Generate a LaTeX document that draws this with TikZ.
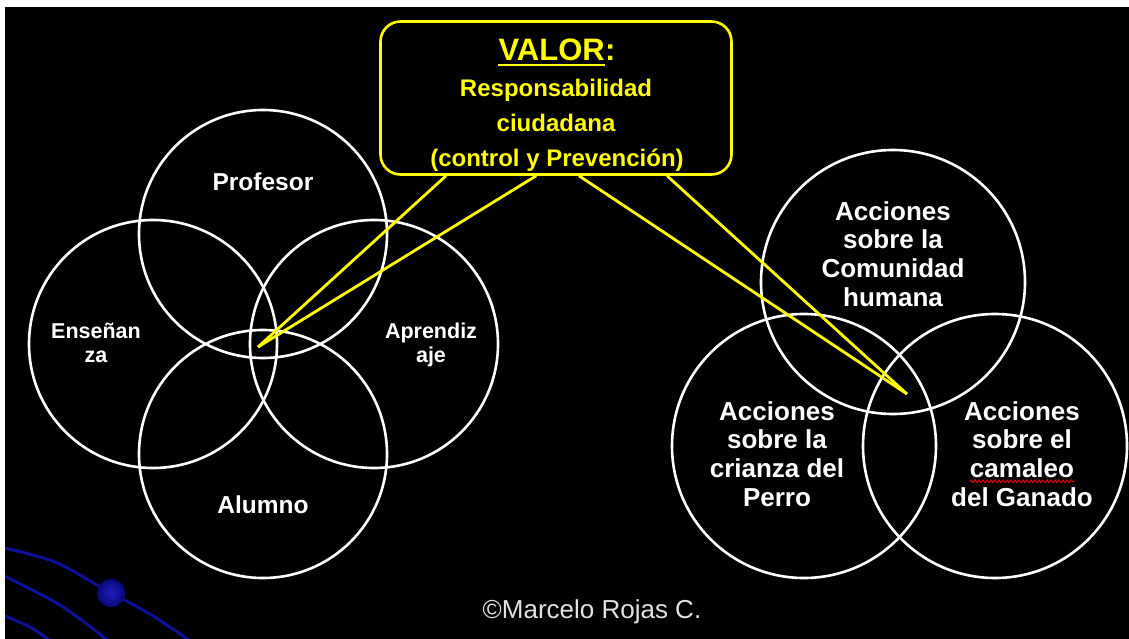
\documentclass[tikz,border=0pt]{standalone}
\usepackage{fontspec}
\setmainfont{Liberation Sans}
\usetikzlibrary{calc,decorations.pathmorphing}
\definecolor{vyellow}{RGB}{255,255,0}
\definecolor{decoblue}{RGB}{14,14,150}
\definecolor{ballin}{RGB}{30,30,190}
\definecolor{ballout}{RGB}{8,8,120}
\definecolor{copygray}{RGB}{225,225,225}
\begin{document}
\begin{tikzpicture}[x=1pt,y=-1pt,
  ring/.style={circle,draw=white,line width=2.6pt,minimum size=#1,inner sep=0pt},
  ltxt/.style={text=white,font=\fontsize{#1}{#1}\selectfont\bfseries,inner sep=0pt,anchor=base},
  ytxt/.style={text=vyellow,font=\fontsize{#1}{#1}\selectfont\bfseries,inner sep=0pt,anchor=base},
  ray/.style={draw=vyellow,line width=2.8pt},
  swirl/.style={draw=decoblue,line width=3pt}]
\useasboundingbox (0,0) rectangle (1129,639);
\fill[white] (0,0) rectangle (1129,639);
\fill[black] (5,7) rectangle (1129,639);

% decoration bottom-left
\begin{scope}
\clip (5,7) rectangle (1129,639);
\draw[swirl] plot[smooth] coordinates {(0,547) (55,562) (111,593) (150,614) (192,642)};
\draw[swirl] plot[smooth] coordinates {(0,574) (60,605) (110,642)};
\draw[swirl] plot[smooth] coordinates {(0,614) (30,627) (52,642)};
\node[circle,minimum size=28pt,inner sep=0pt,inner color=ballin,outer color=ballout] (ball) at (111,593) {};
\end{scope}

% left circles
\node[ring=248pt] (prof) at (263,234) {};
\node[ring=248pt] (ense) at (153,344) {};
\node[ring=248pt] (apre) at (374,344) {};
\node[ring=248pt] (alum) at (263,454) {};

% right circles
\node[ring=264pt] (comu) at (893,282) {};
\node[ring=264pt] (perro) at (804,446) {};
\node[ring=264pt] (ganado) at (995,446) {};

% left texts
\node[ltxt=24.5] (tprof) at (263,191) {Profesor};
\node[ltxt=24.5] (talum) at (263,513) {Alumno};
\node[ltxt=21.5] (tense1) at (96,338) {Enseñan};
\node[ltxt=21.5] (tense2) at (96,362) {za};
\node[ltxt=21.5] (tapre1) at (431,338) {Aprendiz};
\node[ltxt=21.5] (tapre2) at (431,362) {aje};

% right texts
\node[ltxt=26] (tc1) at (893,220) {Acciones};
\node[ltxt=26] (tc2) at (893,248.7) {sobre la};
\node[ltxt=26] (tc3) at (893,277.3) {Comunidad};
\node[ltxt=26] (tc4) at (893,306) {humana};

\node[ltxt=26] (tp1) at (777,420) {Acciones};
\node[ltxt=26] (tp2) at (777,448.7) {sobre la};
\node[ltxt=26] (tp3) at (777,477.3) {crianza del};
\node[ltxt=26] (tp4) at (777,506) {Perro};

\node[ltxt=26] (tg1) at (1022,420) {Acciones};
\node[ltxt=26] (tg2) at (1022,448.7) {sobre el};
\node[ltxt=26] (tg3) at (1022,477.3) {camaleo};
\node[ltxt=26] (tg4) at (1022,506) {del Ganado};
\draw[red!85!black,line width=1.1pt,decorate,decoration={snake,amplitude=1.3pt,segment length=4pt}]
  ([yshift=-4pt]tg3.base west) -- ([yshift=-4pt]tg3.base east);

% value box
\node[draw=vyellow,line width=2.6pt,fill=black,rounded corners=20pt,
      minimum width=351pt,minimum height=153pt,inner sep=0pt] (box) at (556,98) {};
\node[ytxt=31,anchor=base east] (valorw) at (605,61) {VALOR};
\node[ytxt=31,anchor=base west] (colon) at (valorw.base east) {:};
\draw[vyellow,line width=2.5pt] ([yshift=-4pt]valorw.base west) -- ([yshift=-4pt]valorw.base east);
\node[ytxt=24] (l1) at (556,97) {Responsabilidad};
\node[ytxt=24] (l2) at (556,132) {ciudadana};
\node[ytxt=24] (l3) at (557,167) {(control y Prevención)};

% rays
\coordinate (tipL) at (258,347);
\coordinate (tipR) at (907,394);
\coordinate (s1) at ($(box.south west)!0.189!(box.south east)$);
\coordinate (s2) at ($(box.south west)!0.444!(box.south east)$);
\coordinate (s3) at ($(box.south west)!0.565!(box.south east)$);
\coordinate (s4) at ($(box.south west)!0.814!(box.south east)$);
\draw[ray] (s1) -- (tipL);
\draw[ray] (s2) -- (tipL);
\draw[ray] (s3) -- (tipR);
\draw[ray] (s4) -- (tipR);

% copyright
\node[text=copygray,font=\fontsize{26}{30}\selectfont,anchor=base,inner sep=0pt] (copy) at (592,618) {©Marcelo Rojas C.};
\end{tikzpicture}
\end{document}
